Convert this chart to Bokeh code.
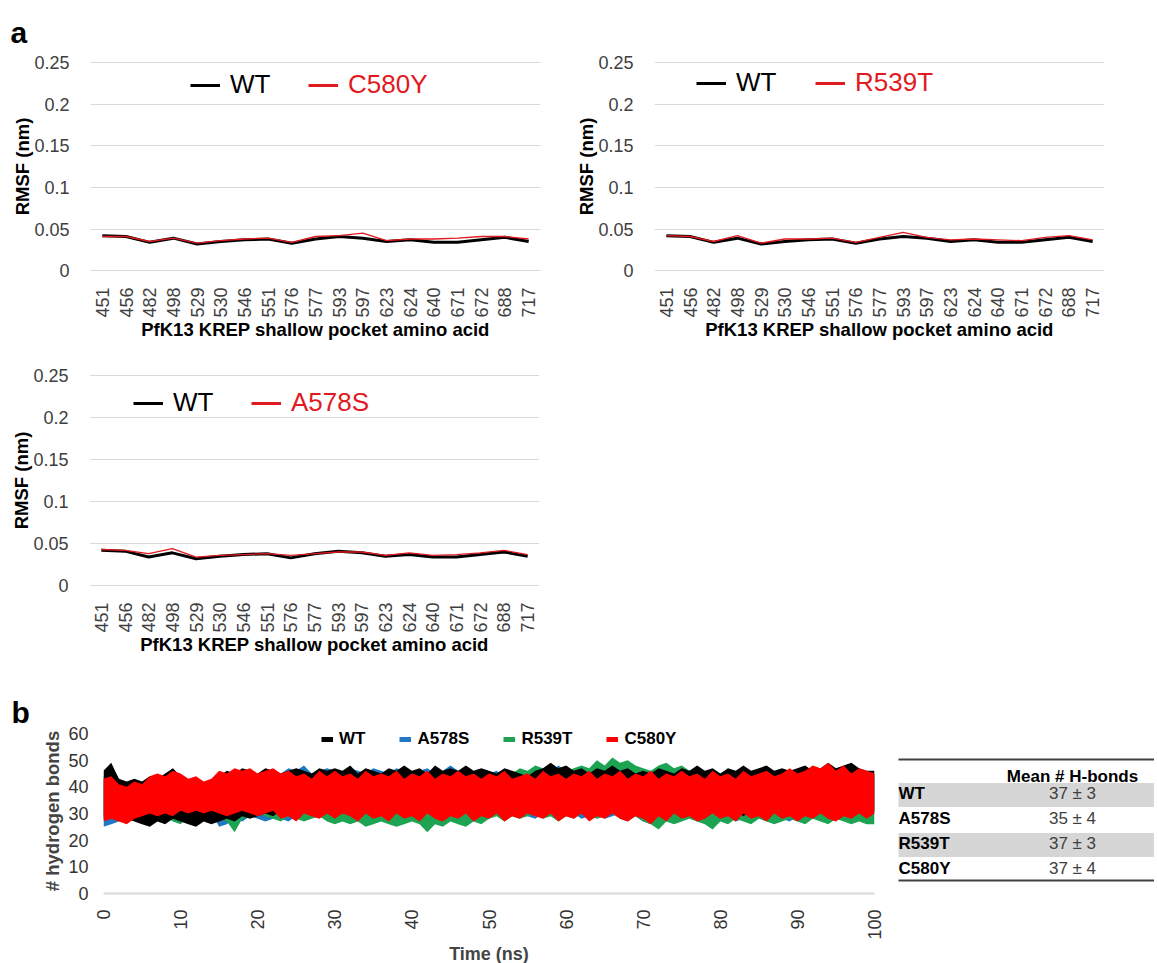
import math
from bokeh.plotting import figure
from bokeh.layouts import column, row
from bokeh.models import (FactorRange, Range1d, FixedTicker, Legend, LegendItem,
                          NumeralTickFormatter)
from bokeh.embed import file_html
from bokeh.resources import INLINE
from bokeh.core.properties import value

FONT = "Liberation Sans"
RED = "#e01a1e"
BLUE = "#1f78c1"
GREEN = "#1ca453"
GRID = "#d9d9d9"
TICK = "#404040"
NAN = float("nan")

# ---------------- data: panel a (RMSF) ----------------
residues = ["451", "456", "482", "498", "529", "530", "546", "551", "576", "577",
            "593", "597", "623", "624", "640", "671", "672", "688", "717"]
rmsf_wt = [0.042, 0.041, 0.034, 0.039, 0.032, 0.035, 0.037, 0.038, 0.033, 0.038,
           0.041, 0.039, 0.035, 0.037, 0.034, 0.034, 0.037, 0.040, 0.035]
rmsf_c580y = [0.041, 0.041, 0.035, 0.039, 0.033, 0.036, 0.038, 0.039, 0.034, 0.041,
              0.042, 0.045, 0.036, 0.038, 0.038, 0.039, 0.041, 0.041, 0.038]
rmsf_r539t = [0.042, 0.041, 0.035, 0.042, 0.033, 0.038, 0.038, 0.039, 0.034, 0.040,
              0.046, 0.040, 0.037, 0.038, 0.037, 0.036, 0.040, 0.042, 0.037]
rmsf_a578s = [0.043, 0.042, 0.038, 0.044, 0.034, 0.036, 0.037, 0.038, 0.036, 0.038,
              0.040, 0.040, 0.036, 0.039, 0.036, 0.037, 0.039, 0.042, 0.037]
rmsf_ticks = [0, 0.05, 0.1, 0.15, 0.2, 0.25]

# ---------------- data: panel b (H-bonds, per-ns envelope) ----------------
time_ns = list(range(0, 101))
hb_wt_hi = [46, 49, 43, 42, 43, 42, 44, 43, 45, 47,
            44, 42, 43, 41, 42, 44, 46, 45, 47, 46,
            45, 47, 46, 45, 46, 47, 46, 45, 47, 46,
            47, 46, 48, 45, 47, 46, 45, 47, 46, 48,
            46, 47, 45, 48, 46, 47, 46, 48, 46, 47,
            46, 45, 47, 46, 45, 44, 46, 47, 49, 47,
            48, 46, 47, 45, 47, 46, 48, 46, 47, 45,
            46, 45, 47, 46, 45, 47, 46, 48, 46, 47,
            45, 47, 46, 48, 46, 47, 48, 46, 47, 46,
            47, 48, 46, 47, 49, 47, 48, 49, 47, 46,
            46]
hb_wt_lo = [28, 28, 29, 28, 27, 26, 25, 27, 26, 28,
            27, 26, 25, 27, 26, 27, 28, 27, 29, 28,
            29, 30, 29, 31, 30, 29, 31, 30, 29, 30,
            31, 30, 32, 31, 30, 32, 31, 30, 32, 31,
            30, 32, 31, 30, 32, 31, 33, 31, 30, 32,
            31, 32, 30, 31, 33, 32, 30, 31, 32, 30,
            31, 32, 30, 31, 33, 30, 32, 31, 30, 32,
            31, 30, 32, 30, 31, 30, 32, 31, 30, 31,
            32, 30, 31, 29, 31, 30, 32, 31, 30, 31,
            30, 31, 29, 32, 30, 31, 30, 29, 31, 30,
            31]
hb_a578s_hi = [43, 44, 42, 40, 41, 40, 42, 43, 42, 44,
               43, 41, 42, 40, 41, 43, 44, 43, 44, 45,
               44, 45, 44, 45, 47, 46, 48, 45, 46, 47,
               46, 45, 47, 46, 45, 47, 46, 45, 47, 46,
               45, 46, 47, 45, 46, 48, 46, 47, 45, 46,
               45, 46, 44, 45, 46, 44, 45, 46, 45, 48,
               46, 45, 44, 46, 45, 44, 45, 46, 44, 45,
               44, 45, 46, 44, 45, 46, 45, 44, 45, 46,
               45, 44, 46, 45, 44, 46, 45, 44, 46, 45,
               46, 45, 47, 46, 45, 47, 46, 48, 46, 45,
               45]
hb_a578s_lo = [25, 26, 27, 28, 29, 28, 29, 30, 29, 30,
               29, 30, 29, 28, 30, 25, 26, 28, 27, 29,
               28, 27, 28, 28, 27, 29, 28, 30, 29, 28,
               29, 28, 30, 29, 28, 30, 29, 28, 29, 30,
               28, 29, 27, 29, 28, 30, 29, 28, 29, 30,
               29, 30, 28, 29, 30, 29, 28, 30, 29, 28,
               29, 30, 28, 29, 30, 28, 29, 30, 28, 29,
               27, 26, 28, 29, 28, 30, 29, 27, 28, 29,
               28, 29, 27, 28, 29, 28, 30, 29, 28, 27,
               29, 28, 30, 27, 29, 28, 30, 29, 28, 29,
               30]
hb_r539t_hi = [44, 47, 43, 41, 42, 41, 43, 42, 43, 44,
               43, 41, 42, 40, 42, 43, 44, 43, 44, 43,
               44, 43, 44, 44, 43, 45, 44, 43, 44, 45,
               44, 43, 45, 44, 43, 44, 45, 43, 44, 45,
               44, 45, 43, 44, 45, 44, 43, 45, 44, 45,
               44, 45, 46, 45, 47, 46, 48, 47, 46, 47,
               46, 47, 48, 47, 50, 48, 51, 49, 50, 48,
               47, 46, 48, 49, 47, 48, 46, 47, 45, 46,
               45, 46, 44, 45, 46, 45, 44, 46, 45, 44,
               45, 44, 46, 45, 44, 46, 45, 44, 46, 45,
               44]
hb_r539t_lo = [29, 30, 29, 30, 31, 30, 29, 30, 29, 27,
               26, 29, 30, 29, 30, 28, 27, 23, 28, 29,
               30, 29, 28, 27, 29, 28, 27, 28, 29, 27,
               26, 27, 26, 27, 25, 26, 27, 26, 25, 26,
               27, 26, 23, 26, 25, 27, 26, 25, 27, 26,
               28, 29, 27, 29, 28, 29, 30, 28, 29, 27,
               29, 28, 30, 29, 28, 29, 30, 28, 27, 29,
               27, 26, 24, 27, 26, 27, 28, 27, 26, 24,
               27, 26, 28, 27, 26, 28, 27, 26, 27, 28,
               27, 26, 28, 27, 26, 28, 27, 26, 27, 26,
               26]
hb_c580y_hi = [43, 44, 41, 40, 42, 41, 44, 45, 44, 46,
               45, 43, 44, 42, 43, 46, 45, 47, 46, 47,
               45, 46, 47, 45, 46, 44, 45, 43, 46, 44,
               46, 44, 45, 43, 46, 44, 45, 44, 46, 43,
               45, 44, 46, 43, 45, 44, 46, 44, 45, 43,
               45, 44, 46, 43, 44, 45, 43, 46, 44, 45,
               43, 45, 44, 46, 43, 45, 44, 46, 43, 45,
               44, 46, 43, 45, 44, 46, 44, 45, 43, 46,
               44, 45, 43, 46, 44, 45, 46, 44, 45, 47,
               45, 46, 48, 47, 49, 46, 48, 45, 47, 46,
               45]
hb_c580y_lo = [27, 28, 27, 26, 28, 29, 30, 29, 30, 29,
               31, 30, 31, 30, 31, 30, 29, 30, 31, 30,
               29, 30, 31, 28, 29, 27, 30, 29, 28, 30,
               28, 30, 29, 27, 30, 28, 29, 27, 30, 28,
               29, 27, 30, 28, 27, 29, 28, 30, 27, 29,
               28, 30, 27, 29, 28, 30, 29, 28, 30, 27,
               29, 28, 30, 27, 29, 28, 30, 28, 27, 29,
               28, 26, 29, 27, 30, 28, 29, 27, 28, 30,
               28, 29, 27, 30, 28, 29, 27, 30, 28, 29,
               27, 29, 28, 30, 28, 27, 29, 28, 30, 28,
               30]
hb_yticks = [0, 10, 20, 30, 40, 50, 60]
hb_xticks = [0, 10, 20, 30, 40, 50, 60, 70, 80, 90, 100]

# ---------------- data: table ----------------
table_header = "Mean # H-bonds"
table_rows = ["WT", "A578S", "R539T", "C580Y"]
table_means = ["37 ± 3", "35 ± 4", "37 ± 3", "37 ± 4"]


def base_style(p):
    p.outline_line_color = None
    p.background_fill_color = "white"
    p.border_fill_color = "white"


def panel_letter(p, letter, offset, standoff):
    p.title.text = letter
    p.title.align = "left"
    p.title.offset = offset
    p.title.standoff = standoff
    p.title.text_font = FONT
    p.title.text_font_size = "30px"
    p.title.text_font_style = "bold"
    p.title.text_color = "black"


def rmsf_panel(mut_vals, mut_name, left, right, top, fh, bottom, wt_lx, mut_lx, leg_y):
    p = figure(x_range=FactorRange(factors=residues), y_range=Range1d(-0.001, 0.251),
               frame_width=450, frame_height=fh,
               min_border_left=left, min_border_right=right,
               min_border_top=top, min_border_bottom=bottom,
               output_backend="svg", toolbar_location=None)
    base_style(p)
    p.xgrid.visible = False
    p.ygrid.grid_line_color = GRID
    p.ygrid.grid_line_width = 1
    p.ygrid.ticker = FixedTicker(ticks=rmsf_ticks)

    p.line(x=residues, y=rmsf_wt, line_color="black", line_width=3)
    p.line(x=residues, y=mut_vals, line_color=RED, line_width=1.3)

    ya = p.yaxis[0]
    ya.ticker = FixedTicker(ticks=rmsf_ticks)
    ya.formatter = NumeralTickFormatter(format="0.[00]")
    ya.axis_line_color = None
    ya.major_tick_line_color = None
    ya.minor_tick_line_color = None
    ya.major_label_text_font = FONT
    ya.major_label_text_font_size = "18px"
    ya.major_label_text_color = TICK
    ya.major_label_standoff = 15
    ya.axis_label = "RMSF (nm)"
    ya.axis_label_text_font = FONT
    ya.axis_label_text_font_size = "18.5px"
    ya.axis_label_text_font_style = "bold"
    ya.axis_label_text_color = "black"
    ya.axis_label_standoff = -2

    xa = p.xaxis[0]
    xa.axis_line_color = None
    xa.major_tick_line_color = None
    xa.minor_tick_line_color = None
    xa.major_label_orientation = math.pi / 2
    xa.major_label_text_font = FONT
    xa.major_label_text_font_size = "18px"
    xa.major_label_text_color = TICK
    xa.major_label_standoff = 10
    xa.axis_label = "PfK13 KREP shallow pocket amino acid"
    xa.axis_label_text_font = FONT
    xa.axis_label_text_font_size = "18.5px"
    xa.axis_label_text_font_style = "bold"
    xa.axis_label_text_color = "black"
    xa.axis_label_standoff = -2

    d_wt = p.line(x=[residues[0]], y=[NAN], line_color="black", line_width=3)
    d_mut = p.line(x=[residues[0]], y=[NAN], line_color=RED, line_width=3)
    for rend, name, col, lx in [(d_wt, "WT", "black", wt_lx), (d_mut, mut_name, RED, mut_lx)]:
        lg = Legend(items=[LegendItem(label=value(name), renderers=[rend])],
                    location=(lx, leg_y), orientation="horizontal",
                    label_text_color=col, label_text_font=FONT, label_text_font_size="26px",
                    glyph_width=30, glyph_height=30, label_height=30, label_standoff=10,
                    padding=0, margin=0, spacing=0,
                    border_line_color=None, background_fill_alpha=0)
        p.add_layout(lg, "center")
    return p


fa1 = rmsf_panel(rmsf_c580y, "C580Y", 90, 20, 61, 210, 74, 100, 218, 171)
panel_letter(fa1, "a", -80, 25)
fa2 = rmsf_panel(rmsf_r539t, "R539T", 94, 50, 61, 210, 74, 42, 161, 173)
fa3 = rmsf_panel(rmsf_a578s, "A578S", 89, 21, 29, 212, 74, 44, 162, 168)

# ---------------- panel b ----------------
B_TOP, B_FH, B_BOT = 68, 165, 66
fb = figure(x_range=Range1d(0, 100), y_range=Range1d(0, 60 * B_FH / 160.0),
            frame_width=771, frame_height=B_FH,
            min_border_left=103, min_border_right=16, min_border_top=B_TOP,
            min_border_bottom=B_BOT,
            output_backend="svg", toolbar_location=None)
base_style(fb)
fb.grid.visible = False
series = [("A578S", hb_a578s_lo, hb_a578s_hi, BLUE),
          ("R539T", hb_r539t_lo, hb_r539t_hi, GREEN),
          ("WT", hb_wt_lo, hb_wt_hi, "black"),
          ("C580Y", hb_c580y_lo, hb_c580y_hi, "#ff0000")]
dummies = {}
for name, lo, hi, col in series:
    fb.varea(x=time_ns, y1=lo, y2=hi, fill_color=col)
    dummies[name] = fb.line(x=[0], y=[NAN], line_color=col, line_width=5)
items = [LegendItem(label=value(n), renderers=[dummies[n]])
         for n in ["WT", "A578S", "R539T", "C580Y"]]
lgb = Legend(items=items, location=(218, 144), orientation="horizontal",
             label_text_font=FONT, label_text_font_size="17px", label_text_font_style="bold",
             label_text_color="black", glyph_width=12, glyph_height=20, label_height=20,
             label_standoff=6, spacing=34, padding=0, margin=0,
             border_line_color=None, background_fill_alpha=0)
fb.add_layout(lgb, "center")
panel_letter(fb, "b", -92, 0)

yb = fb.yaxis[0]
yb.ticker = FixedTicker(ticks=hb_yticks)
yb.axis_line_color = None
yb.major_tick_line_color = None
yb.minor_tick_line_color = None
yb.major_label_text_font = FONT
yb.major_label_text_font_size = "18px"
yb.major_label_text_color = "#333333"
yb.major_label_standoff = 9
yb.axis_label = "# hydrogen bonds"
yb.axis_label_text_font = FONT
yb.axis_label_text_font_size = "18.5px"
yb.axis_label_text_font_style = "bold"
yb.axis_label_standoff = 2

xb = fb.xaxis[0]
xb.ticker = FixedTicker(ticks=hb_xticks)
xb.axis_line_color = GRID
xb.axis_line_width = 2
xb.major_tick_line_color = None
xb.minor_tick_line_color = None
xb.major_label_orientation = math.pi / 2
xb.major_label_text_font = FONT
xb.major_label_text_font_size = "18px"
xb.major_label_text_color = "#333333"
xb.major_label_standoff = 10
xb.axis_label = "Time (ns)"
xb.axis_label_text_font = FONT
xb.axis_label_text_font_size = "18px"
xb.axis_label_text_font_style = "bold"
xb.axis_label_standoff = 1

# ---------------- table (coordinates = picture pixels) ----------------
T_X0, T_X1 = 890, 1154
FRAME_TOP = 660 + B_TOP
FRAME_BOTTOM = FRAME_TOP + B_FH
ft = figure(x_range=Range1d(T_X0, T_X1), y_range=Range1d(FRAME_BOTTOM, FRAME_TOP),
            frame_width=T_X1 - T_X0, frame_height=B_FH,
            min_border_left=0, min_border_right=0, min_border_top=B_TOP,
            min_border_bottom=B_BOT,
            x_axis_location=None, y_axis_location=None,
            output_backend="svg", toolbar_location=None)
base_style(ft)
ft.grid.visible = False
t_left, t_right = 898, T_X1
rule_top = 759
header_y = 776
row0, row_h = 793, 25
row_ys = [row0 + i * row_h for i in range(len(table_rows))]
rule_bottom = row_ys[-1] + 12
col_center = 1072

band_ys = [y for i, y in enumerate(row_ys) if i % 2 == 0]
ft.quad(left=[t_left] * len(band_ys), right=[t_right] * len(band_ys),
        top=[y - 10.5 for y in band_ys], bottom=[y + 13.5 for y in band_ys],
        fill_color="#d6d6d6", line_color=None)
ft.segment(x0=[t_left, t_left], x1=[t_right, t_right], y0=[rule_top, rule_bottom],
           y1=[rule_top, rule_bottom], line_color="#404040", line_width=2.2)
ft.text(x=[col_center], y=[header_y], text=[table_header], text_font=value(FONT),
        text_font_size=value("17px"), text_font_style="bold", text_color="black",
        text_align="center", text_baseline="middle")
ft.text(x=[t_left] * len(table_rows), y=row_ys, text=table_rows, text_font=value(FONT),
        text_font_size=value("17px"), text_font_style="bold", text_color="black",
        text_align="left", text_baseline="middle")
ft.text(x=[col_center] * len(table_means), y=row_ys, text=table_means, text_font=value(FONT),
        text_font_size=value("17px"), text_color="#404040",
        text_align="center", text_baseline="middle")

layout = column(row(fa1, fa2), row(fa3), row(fb, ft))
open("out.html", "w").write(file_html(layout, INLINE))
